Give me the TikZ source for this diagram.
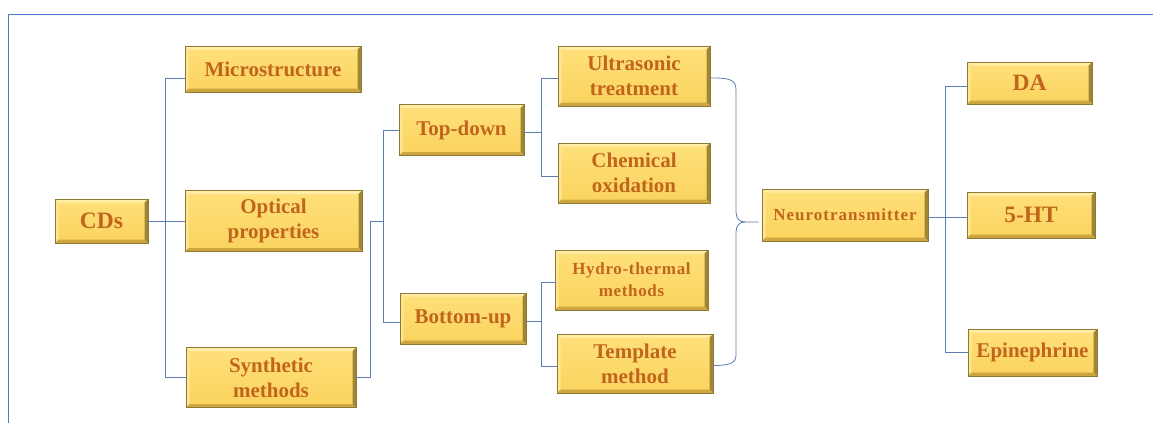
\documentclass[tikz,border=0pt]{standalone}
\usepackage{fontspec}
\setmainfont{Liberation Serif}
\newfontfamily\lsfont[LetterSpace=6]{Liberation Serif}
\newfontfamily\lsfontb[LetterSpace=4]{Liberation Serif}
\definecolor{boxfillA}{HTML}{FFE07A}
\definecolor{boxfillB}{HTML}{FAD35E}
\definecolor{boxline}{HTML}{8C7A34}
\definecolor{bvtop}{HTML}{FFEDA8}
\definecolor{bvleft}{HTML}{FFE592}
\definecolor{bvright}{HTML}{A08632}
\definecolor{bvbot}{HTML}{CDA642}
\definecolor{txt}{HTML}{C2651C}
\definecolor{lnk}{HTML}{5B7DB1}
\definecolor{frame}{HTML}{4A78D2}
\tikzset{
  box/.style={draw=boxline, line width=0.6pt, top color=boxfillA, bottom color=boxfillB,
    inner sep=0pt, text=txt, align=center, font=\bfseries\fontsize{21}{25}\selectfont,
    path picture={
      \fill[bvtop] (path picture bounding box.north west) -- (path picture bounding box.north east)
        -- ([shift={(-3.5pt,-3.5pt)}]path picture bounding box.north east)
        -- ([shift={(3.5pt,-3.5pt)}]path picture bounding box.north west) -- cycle;
      \fill[bvleft] (path picture bounding box.north west) -- (path picture bounding box.south west)
        -- ([shift={(3.5pt,3.5pt)}]path picture bounding box.south west)
        -- ([shift={(3.5pt,-3.5pt)}]path picture bounding box.north west) -- cycle;
      \fill[bvright] (path picture bounding box.north east) -- (path picture bounding box.south east)
        -- ([shift={(-3.5pt,3.5pt)}]path picture bounding box.south east)
        -- ([shift={(-3.5pt,-3.5pt)}]path picture bounding box.north east) -- cycle;
      \fill[bvbot] (path picture bounding box.south west) -- (path picture bounding box.south east)
        -- ([shift={(-3.5pt,3.5pt)}]path picture bounding box.south east)
        -- ([shift={(3.5pt,3.5pt)}]path picture bounding box.south west) -- cycle;
    }},
  conn/.style={draw=lnk, line width=0.8pt},
  bigtext/.style={font=\bfseries\fontsize{23.5}{28}\selectfont},
}
\begin{document}
\begin{tikzpicture}[x=1pt,y=-1pt]
\useasboundingbox (0,0) rectangle (1153,423);
\fill[white] (0,0) rectangle (1153,423);
\draw[frame, line width=1.4pt] (8.7,423) -- (8.7,14.7) -- (1153,14.7);

% nodes
\node[box, bigtext, minimum width=93pt, minimum height=44pt] (cds) at (101.5,221) {CDs};
\node[box, minimum width=176pt, minimum height=46pt] (micro) at (273,69) {Microstructure};
\node[box, minimum width=177pt, minimum height=61pt] (optical) at (273.5,221) {Optical\\properties};
\node[box, minimum width=170pt, minimum height=60pt] (synth) at (271,377.5) {Synthetic\\methods};
\node[box, minimum width=125pt, minimum height=51pt] (topdown) at (461.5,130) {Top-down};
\node[box, minimum width=126pt, minimum height=51pt] (bottomup) at (463,318.5) {Bottom-up};
\node[box, minimum width=152pt, minimum height=60pt] (ultra) at (634,76) {Ultrasonic\\treatment};
\node[box, minimum width=152pt, minimum height=60pt] (chem) at (634,173) {Chemical\\oxidation};
\node[box, minimum width=153pt, minimum height=60pt, font=\bfseries\lsfontb\fontsize{17}{22}\selectfont] (hydro) at (631.5,280) {Hydro-thermal\\methods};
\node[box, minimum width=156pt, minimum height=59pt] (templ) at (635,363.5) {Template\\method};
\node[box, minimum width=166pt, minimum height=52pt, font=\bfseries\lsfont\fontsize{17}{20}\selectfont] (neuro) at (845,215) {Neurotransmitter};
\node[box, bigtext, minimum width=125pt, minimum height=42pt] (da) at (1029.5,83) {DA};
\node[box, bigtext, minimum width=128pt, minimum height=46pt] (ht) at (1031,215) {5-HT};
\node[box, minimum width=129pt, minimum height=47pt] (epi) at (1032.5,352.5) {Epinephrine};

% CDs tree
\draw[conn] ([yshift=-9pt]micro.west) -- ++(-19,0) |- (synth.west);
\draw[conn] (cds.east) -- (optical.west);
% synthetic -> top-down / bottom-up
\draw[conn] (synth.east) -- ++(14,0) |- (384,221);
\draw[conn] (topdown.west) -- ++(-15,0) |- ([yshift=-3.5pt]bottomup.west);
% top-down -> ultra / chem
\draw[conn] ([yshift=-2pt]ultra.west) -- ++(-16,0) |- ([yshift=-3pt]chem.west);
\draw[conn] ([yshift=-2pt]topdown.east) -- ++(18,0);
% bottom-up -> hydro / template
\draw[conn] ([yshift=-2pt]hydro.west) -- ++(-13,0) |- ([yshift=-2.5pt]templ.west);
\draw[conn] ([yshift=-2.5pt]bottomup.east) -- ++(16,0);
% brace to neurotransmitter
\coordinate (tip) at ([xshift=-3pt,yshift=-7pt]neuro.west);
\draw[conn] ([yshift=-2pt]ultra.east) -- ++(3,0) .. controls (730,78) and (736,80) .. (736,90)
  -- (736,212) .. controls (736,219) and (740,222) .. (745,222) -- (tip);
\draw[conn] (745,222) .. controls (740,222) and (736,225) .. (736,232)
  -- (736,355) .. controls (736,363) and (730,365.5) .. ([yshift=-2pt]templ.east);
% neurotransmitter -> DA, 5-HT, Epinephrine
\draw[conn] ([yshift=-3pt]da.west) -- ++(-21,0) |- (epi.west);
\draw[conn] ([yshift=-2pt]neuro.east) -- ([yshift=-2pt]ht.west);
\end{tikzpicture}
\end{document}
